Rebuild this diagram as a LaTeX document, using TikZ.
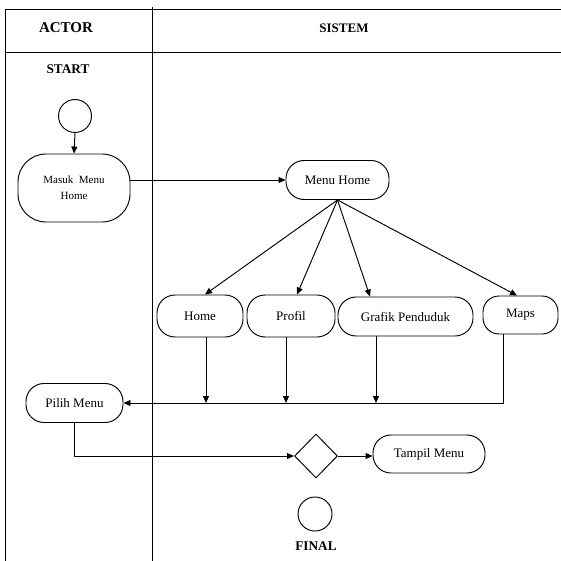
\documentclass[tikz,border=0pt]{standalone}
\usepackage{fontspec}
\setmainfont{Liberation Serif}
\usetikzlibrary{arrows.meta,shapes.geometric,calc}
\begin{document}
\begin{tikzpicture}[x=1pt,y=-1pt,
  line width=0.95pt,
  arr/.style={-{Triangle[length=7pt,width=6pt]}},
  act/.style={draw,rectangle,rounded corners=18pt,inner sep=0pt,align=center,font=\fontsize{13}{14}\selectfont},
  hdr/.style={font=\bfseries\fontsize{13}{15}\selectfont,inner sep=0pt},
  lbl/.style={font=\bfseries\fontsize{13.3}{14}\selectfont,inner sep=0pt}]
\useasboundingbox (0,0) rectangle (561,561);
% swimlane frame
\draw (5,9) -- (561,9);
\draw (5,52) -- (561,52);
\draw (5,9) -- (5,561);
\draw (152,7) -- (152,561);
\node[hdr,font=\bfseries\fontsize{15}{16}\selectfont] (actor) at (66,28) {ACTOR};
\node[hdr] (sistem) at (344,28) {SISTEM};
\node[lbl] (start) at (68,69) {START};
\node[lbl] (final) at (316,546) {FINAL};
% nodes
\node[draw,circle,minimum size=33pt,inner sep=0pt] (startc) at (75,116) {};
\node[act,rounded corners=28pt,minimum width=112pt,minimum height=68pt,font=\fontsize{11}{16}\selectfont] (masuk) at (74,188) {Masuk\ \ Menu\\Home};
\node[act,minimum width=103pt,minimum height=39pt] (mh) at (337.5,180) {Menu Home};
\node[act,minimum width=86pt,minimum height=42pt] (home) at (200,316) {Home};
\node[act,minimum width=88pt,minimum height=42pt] (profil) at (291,316) {Profil};
\node[act,minimum width=135pt,minimum height=39pt] (grafik) at (405.5,316.5) {Grafik Penduduk};
\node[act,rounded corners=16pt,minimum width=75pt,minimum height=38pt] (maps) at (520.5,315) {Maps};
\node[act,minimum width=97pt,minimum height=39pt] (pilih) at (74.5,403) {Pilih Menu};
\node[draw,diamond,minimum width=43pt,minimum height=44pt,inner sep=0pt] (dia) at (316,456) {};
\node[act,minimum width=112pt,minimum height=38pt] (tampil) at (429,454) {Tampil Menu};
\node[draw,circle,minimum size=34pt,inner sep=0pt] (finalc) at (315,514) {};
% junction coordinates
\coordinate (jh) at (206,403);
\coordinate (jp) at (286,403);
\coordinate (jg) at (376,403);
\coordinate (jm) at (503,403);
% connectors
\draw[arr] (startc.south) -- (masuk.north);
\draw[arr] (mh.west -| masuk.east) -- (mh.west);
\draw[arr] (mh.south) -- ($(home.north)+(5,0)$);
\draw[arr] (mh.south) -- ($(profil.north)+(6,0)$);
\draw[arr] (mh.south) -- ($(grafik.north)+(-35.5,0)$);
\draw[arr] (mh.south) -- ($(maps.north)+(-3.5,0)$);
\draw[arr] (home.south -| jh) -- (jh);
\draw[arr] (profil.south -| jp) -- (jp);
\draw[arr] (grafik.south -| jg) -- (jg);
\draw[arr] (maps.south -| jm) -- (jm) -- (pilih.east);
\draw[arr] (pilih.south) |- (dia.west);
\draw[arr] (dia.east) -- (dia.east -| tampil.west);
\end{tikzpicture}
\end{document}
